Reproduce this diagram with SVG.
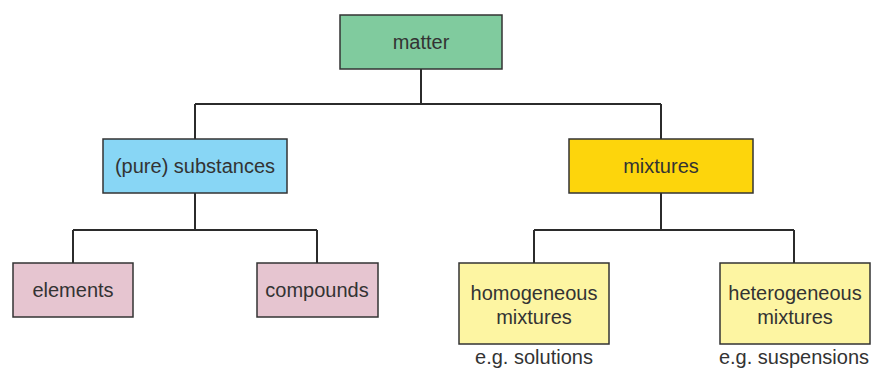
<svg xmlns="http://www.w3.org/2000/svg" width="873" height="369" viewBox="0 0 873 369">
<style>
.box{stroke:#333;stroke-width:1.5}
.t{font-family:"Liberation Sans",Arial,sans-serif;font-size:20px;fill:#333;text-anchor:middle;dominant-baseline:central}
.c{fill:none;stroke:#2b2b2b;stroke-width:2}
</style>
<rect width="873" height="369" fill="#fff"/>
<g id="connectors">
<path class="c" d="M421 69V104M195 104H661M195 104V139M661 104V139"/>
<path class="c" d="M195 193V230M73 230H317M73 230V263M317 230V263"/>
<path class="c" d="M661 193V230M534 230H794M534 230V263M794 230V263"/>
</g>
<g id="matter"><rect class="box" x="340" y="15" width="162" height="54" fill="#80cb9e"/><text class="t" x="421" y="42">matter</text></g>
<g id="substances"><rect class="box" x="103" y="139" width="184" height="54" fill="#88d6f5"/><text class="t" x="195" y="166">(pure) substances</text></g>
<g id="mixtures"><rect class="box" x="569" y="139" width="184" height="54" fill="#fdd50c"/><text class="t" x="661" y="166">mixtures</text></g>
<g id="elements"><rect class="box" x="13" y="263" width="120" height="54" fill="#e6c5d0"/><text class="t" x="73" y="290">elements</text></g>
<g id="compounds"><rect class="box" x="257" y="263" width="121" height="54" fill="#e6c5d0"/><text class="t" x="317" y="290">compounds</text></g>
<g id="homogeneous"><rect class="box" x="459" y="263" width="150" height="81" fill="#fdf5a2"/><text class="t" x="534" y="293">homogeneous</text><text class="t" x="534" y="317">mixtures</text></g>
<g id="heterogeneous"><rect class="box" x="720" y="263" width="150" height="81" fill="#fdf5a2"/><text class="t" x="795" y="293">heterogeneous</text><text class="t" x="795" y="317">mixtures</text></g>
<g id="captions"><text class="t" x="534" y="357">e.g. solutions</text><text class="t" x="794" y="357">e.g. suspensions</text></g>
</svg>
